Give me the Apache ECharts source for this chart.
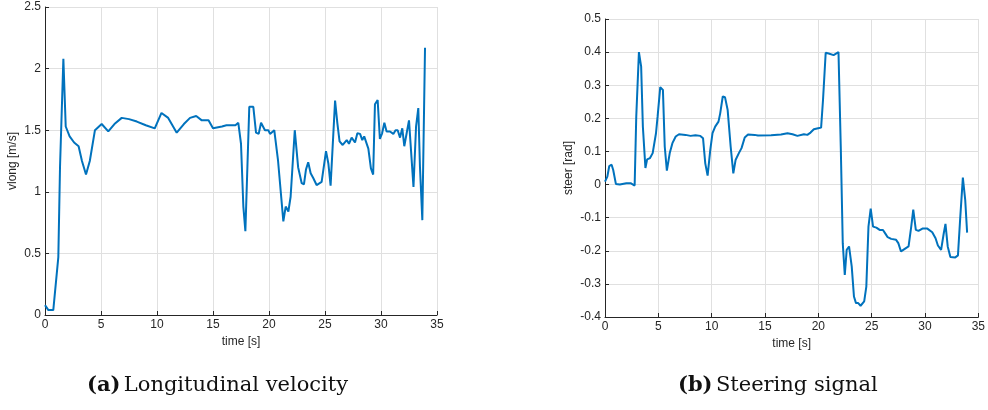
<!DOCTYPE html>
<html>
<head>
<meta charset="utf-8">
<title>vlong / steer</title>
<script src="https://cdn.jsdelivr.net/npm/echarts@6/dist/echarts.min.js"></script>
<style>
  html, body { margin: 0; padding: 0; background: #fff; }
  #main { width: 988px; height: 410px; }
</style>
</head>
<body>
<div id="main"></div>
<script>
// (a) longitudinal velocity
var velTime = [0, 0.3, 0.74, 0.9, 1.19, 1.34, 1.64, 1.85, 2.2, 2.6, 3.0, 3.3, 3.66, 4.0, 4.46, 5.06, 5.65, 6.2, 6.85, 7.5,
  8.2, 9.0, 9.8, 10.4, 11.0, 11.76, 12.4, 12.95, 13.5, 14.0, 14.6, 15.0, 15.8, 16.2, 17.0, 17.26, 17.5, 17.71, 17.89, 18.24,
  18.6, 18.84, 19.08, 19.29, 19.64, 19.94, 20.09, 20.47, 20.8, 21.28, 21.49, 21.73, 21.93, 22.3, 22.6, 22.92, 23.12, 23.3, 23.5, 23.72,
  23.96, 24.25, 24.7, 25.09, 25.3, 25.5, 25.9, 26.1, 26.3, 26.58, 26.94, 27.14, 27.38, 27.68, 27.89, 28.13, 28.33, 28.5, 28.87, 29.1,
  29.3, 29.46, 29.7, 29.9, 30.1, 30.3, 30.5, 30.8, 31.1, 31.3, 31.49, 31.7, 31.9, 32.08, 32.29, 32.5, 32.9, 33.13, 33.33, 33.48,
  33.69, 33.93]
var velValues = [0.08, 0.04, 0.04, 0.054, 0.47, 1.2, 2.08, 1.53, 1.45, 1.4, 1.37, 1.25, 1.14, 1.25, 1.50, 1.55, 1.49, 1.55, 1.60, 1.59,
  1.57, 1.54, 1.515, 1.64, 1.60, 1.48, 1.55, 1.6, 1.615, 1.58, 1.58, 1.515, 1.53, 1.54, 1.54, 1.56, 1.39, 0.88, 0.68, 1.69,
  1.69, 1.48, 1.47, 1.56, 1.50, 1.50, 1.47, 1.50, 1.26, 0.76, 0.88, 0.84, 0.96, 1.50, 1.20, 1.07, 1.06, 1.18, 1.24, 1.15,
  1.11, 1.055, 1.08, 1.33, 1.23, 1.05, 1.74, 1.56, 1.41, 1.38, 1.42, 1.39, 1.44, 1.40, 1.475, 1.47, 1.42, 1.45, 1.35, 1.19,
  1.14, 1.71, 1.745, 1.43, 1.475, 1.56, 1.49, 1.49, 1.47, 1.50, 1.50, 1.44, 1.515, 1.37, 1.475, 1.58, 1.04, 1.53, 1.68, 1.20,
  0.77, 2.17]

// (b) steering signal
var steerTime = [0, 0.22, 0.4, 0.62, 0.77, 1.02, 1.39, 2.0, 2.4, 2.78, 2.93, 3.18, 3.39, 3.55, 3.79, 3.95, 4.22, 4.47, 4.78, 4.93,
  5.18, 5.43, 5.6, 5.8, 6.07, 6.32, 6.63, 6.94, 7.55, 8.02, 8.48, 8.94, 9.19, 9.4, 9.62, 9.87, 10.08, 10.33, 10.64, 10.8,
  11.04, 11.25, 11.5, 11.78, 12.03, 12.24, 12.55, 12.8, 13.1, 13.41, 14.03, 14.34, 15.57, 16.5, 17.11, 17.58, 18.04, 18.65, 18.97, 19.27,
  19.58, 19.98, 20.26, 20.44, 20.69, 20.97, 21.43, 21.89, 22.11, 22.29, 22.48, 22.66, 22.88, 23.13, 23.34, 23.53, 23.74, 23.96, 24.3, 24.5,
  24.7, 24.91, 25.13, 25.44, 25.75, 26.06, 26.3, 26.5, 26.83, 27.29, 27.5, 27.75, 27.91, 28.21, 28.46, 28.71, 28.9, 29.14, 29.39, 29.76,
  30.22, 30.68, 30.99, 31.21, 31.51, 31.76, 31.92, 32.13, 32.38, 32.84, 33.09, 33.31, 33.55, 33.77, 33.95]
var steerValues = [0.009, 0.024, 0.056, 0.06, 0.044, 0.002, 0, 0.004, 0.004, -0.003, 0.205, 0.40, 0.356, 0.175, 0.05, 0.076, 0.08, 0.095, 0.155, 0.205,
  0.294, 0.286, 0.115, 0.042, 0.095, 0.125, 0.145, 0.152, 0.15, 0.147, 0.149, 0.147, 0.14, 0.064, 0.027, 0.105, 0.155, 0.175, 0.19, 0.215,
  0.266, 0.264, 0.225, 0.115, 0.034, 0.074, 0.095, 0.11, 0.142, 0.151, 0.15, 0.148, 0.149, 0.151, 0.155, 0.152, 0.147, 0.152, 0.15, 0.157,
  0.167, 0.17, 0.172, 0.256, 0.398, 0.396, 0.391, 0.40, 0.105, -0.177, -0.273, -0.197, -0.187, -0.247, -0.338, -0.358, -0.358, -0.366, -0.353, -0.308,
  -0.127, -0.073, -0.127, -0.13, -0.137, -0.137, -0.149, -0.159, -0.164, -0.167, -0.177, -0.202, -0.205, -0.192, -0.187, -0.127, -0.076, -0.137, -0.14, -0.133,
  -0.133, -0.144, -0.162, -0.184, -0.197, -0.147, -0.119, -0.187, -0.219, -0.22, -0.214, -0.097, 0.021, -0.046, -0.145]

var xTicks = { min: 0, max: 35, interval: 5 }
var velTicks = { min: 0, max: 2.5, interval: 0.5 }
var steerTicks = { min: -0.4, max: 0.5, interval: 0.1 }

var captions = ['(a)', 'Longitudinal velocity', '(b)', 'Steering signal']

function pairs(xs, ys) {
    var out = []
    for (var i = 0; i < xs.length; i++) out.push([xs[i], ys[i]])
    return out
}

var axisColor = '#262626'
var labelFont = { color: '#262626', fontSize: 12, fontFamily: 'Liberation Sans, Arial, sans-serif' }

function xAxisCfg(grid) {
    return {
        type: 'value', gridIndex: grid,
        min: xTicks.min, max: xTicks.max, interval: xTicks.interval,
        name: 'time [s]', nameLocation: 'middle', nameGap: 20,
        nameTextStyle: labelFont,
        axisLine: { onZero: false, lineStyle: { color: axisColor, width: 1 } },
        axisTick: { inside: true, length: 4, lineStyle: { color: axisColor } },
        axisLabel: Object.assign({ margin: 4 }, labelFont),
        splitLine: { show: true, lineStyle: { color: '#e0e0e0', width: 1 } }
    }
}

function yAxisCfg(grid, ticks, name, gap) {
    return {
        type: 'value', gridIndex: grid,
        min: ticks.min, max: ticks.max, interval: ticks.interval,
        name: name, nameLocation: 'middle', nameGap: gap,
        nameTextStyle: labelFont,
        axisLine: { show: true, onZero: false, lineStyle: { color: axisColor, width: 1 } },
        axisTick: { show: true, inside: true, length: 4, lineStyle: { color: axisColor } },
        axisLabel: Object.assign({ margin: 4 }, labelFont),
        splitLine: { show: true, lineStyle: { color: '#e0e0e0', width: 1 } }
    }
}

// caption font: no Computer Modern here, DejaVu Serif is the nearest width
var captionRich = {
    b: { fontFamily: 'DejaVu Serif, serif', fontWeight: 'bold', fontSize: 21, fill: '#111' },
    n: { fontFamily: 'DejaVu Serif, serif', fontSize: 21, fill: '#111' }
}

var option = {
    animation: false,
    backgroundColor: '#fff',
    grid: [
        { left: 45, right: 551, top: 7, bottom: 95 },
        { left: 605, right: 5, top: 19, bottom: 93 }
    ],
    xAxis: [xAxisCfg(0), xAxisCfg(1)],
    yAxis: [
        yAxisCfg(0, velTicks, 'vlong [m/s]', 26),
        yAxisCfg(1, steerTicks, 'steer [rad]', 30)
    ],
    series: [
        {
            type: 'line', xAxisIndex: 0, yAxisIndex: 0,
            data: pairs(velTime, velValues),
            showSymbol: false, lineStyle: { color: '#0072BD', width: 2 }
        },
        {
            type: 'line', xAxisIndex: 1, yAxisIndex: 1,
            data: pairs(steerTime, steerValues),
            showSymbol: false, lineStyle: { color: '#0072BD', width: 2 }
        }
    ],
    graphic: [
        {
            type: 'text', left: 87, top: 375,
            style: { text: '{b|' + captions[0] + '} {n|' + captions[1] + '}', rich: captionRich }
        },
        {
            type: 'text', left: 678, top: 375,
            style: { text: '{b|' + captions[2] + '} {n|' + captions[3] + '}', rich: captionRich }
        }
    ]
}

var myChart = echarts.init(document.getElementById('main'))
myChart.setOption(option)
</script>
</body>
</html>
